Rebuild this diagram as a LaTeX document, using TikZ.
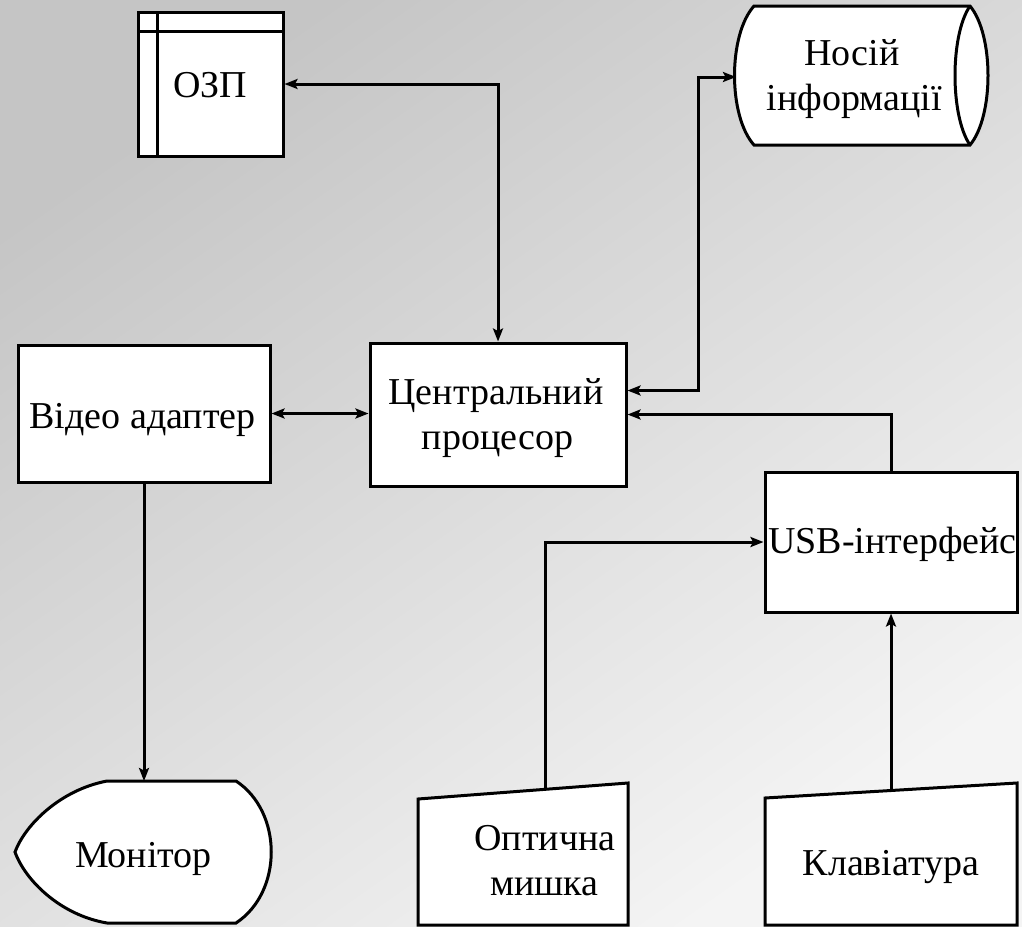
\documentclass[tikz,border=0pt]{standalone}
\usepackage{fontspec}
\setmainfont{Liberation Serif}
\newfontfamily\tnr{Liberation Serif}
\usetikzlibrary{arrows.meta}
\definecolor{bgtop}{RGB}{197,197,197}
\definecolor{bgbot}{RGB}{244,244,244}
\tikzset{
  box/.style={draw, line width=3pt, fill=white, inner sep=0pt},
  shapeline/.style={draw, line width=3pt, fill=white, line join=miter},
  lbl/.style={inner sep=0pt, anchor=base},
  tip/.tip={Stealth[length=13pt,width=10pt,inset=2.5pt]},
  conn/.style={line width=3pt, -tip},
  conn2/.style={line width=3pt, tip-tip},
}
\begin{document}
\begin{tikzpicture}[x=1pt,y=-1pt,font=\tnr\fontsize{38}{45}\selectfont]
\useasboundingbox (0,0) rectangle (1022,926);
\shade[top color=bgtop, bottom color=bgbot, shading angle=35] (0,0) rectangle (1022,926);

% OZP
\node[box, minimum width=145pt, minimum height=144pt] (ozp) at (210.5,84) {};
\draw[line width=3pt] (157,12) -- (157,156) (138,31) -- (283,31);
\node[lbl] (ozpt) at (210,97) {ОЗП};

% Storage
\path[shapeline] (754,6) -- (970,6) .. controls (994,35) and (994,116) .. (970,145)
  -- (754,145) .. controls (728,116) and (728,35) .. (754,6) -- cycle;
\draw[line width=3pt] (970,6) .. controls (950,35) and (950,116) .. (970,145);
\node[lbl] (nos1) at (852,65) {Носій};
\node[lbl] (nos2) at (854,110) {інформації};
\coordinate (nosL) at (736,77);

% CPU
\node[box, minimum width=256pt, minimum height=143pt] (cpu) at (498,414.5) {};
\node[lbl] (cpu1) at (496,404) {Центральний};
\node[lbl] (cpu2) at (497.5,449) {процесор};

% Video
\node[box, minimum width=252pt, minimum height=137pt] (video) at (144,413.5) {};
\node[lbl] (videot) at (142.5,428) {Відео адаптер};

% USB
\node[box, minimum width=252pt, minimum height=140pt] (usb) at (891,542) {};
\node[lbl] (usbt) at (892.5,553) {USB-інтерфейс};

% Monitor
\path[shapeline] (107,781) -- (236,781) .. controls (283,812) and (283,892) .. (236,923)
  -- (107,923) .. controls (60,915) and (25,880) .. (15,852)
  .. controls (25,825) and (60,790) .. (107,781) -- cycle;
\node[lbl] (mon) at (143.5,867) {Монітор};
\coordinate (monT) at (144,781);

% Mouse
\path[shapeline] (418,799) -- (628,783) -- (628,925) -- (418,925) -- cycle;
\node[lbl] (mouse1) at (545,850) {Оптична};
\node[lbl] (mouse2) at (544.5,895) {мишка};
\coordinate (mouseT) at (545,789);

% Keyboard
\path[shapeline] (765,798) -- (1017,783) -- (1017,925) -- (765,925) -- cycle;
\node[lbl] (kb) at (891,875) {Клавіатура};
\coordinate (kbT) at (891,790);

% connectors
\draw[conn2] (ozp.east) -| (cpu.north);
\draw[conn2] ([yshift=24pt]cpu.east) -- ++(71,0) |- (nosL);
\draw[conn2] (video.east) -- (video.east -| cpu.west);
\draw[conn] (usb.north) |- (cpu.east);
\draw[conn] (mouseT) |- (usb.west);
\draw[conn] (kbT) -- (usb.south);
\draw[conn] (video.south) -- (monT);
\end{tikzpicture}
\end{document}
